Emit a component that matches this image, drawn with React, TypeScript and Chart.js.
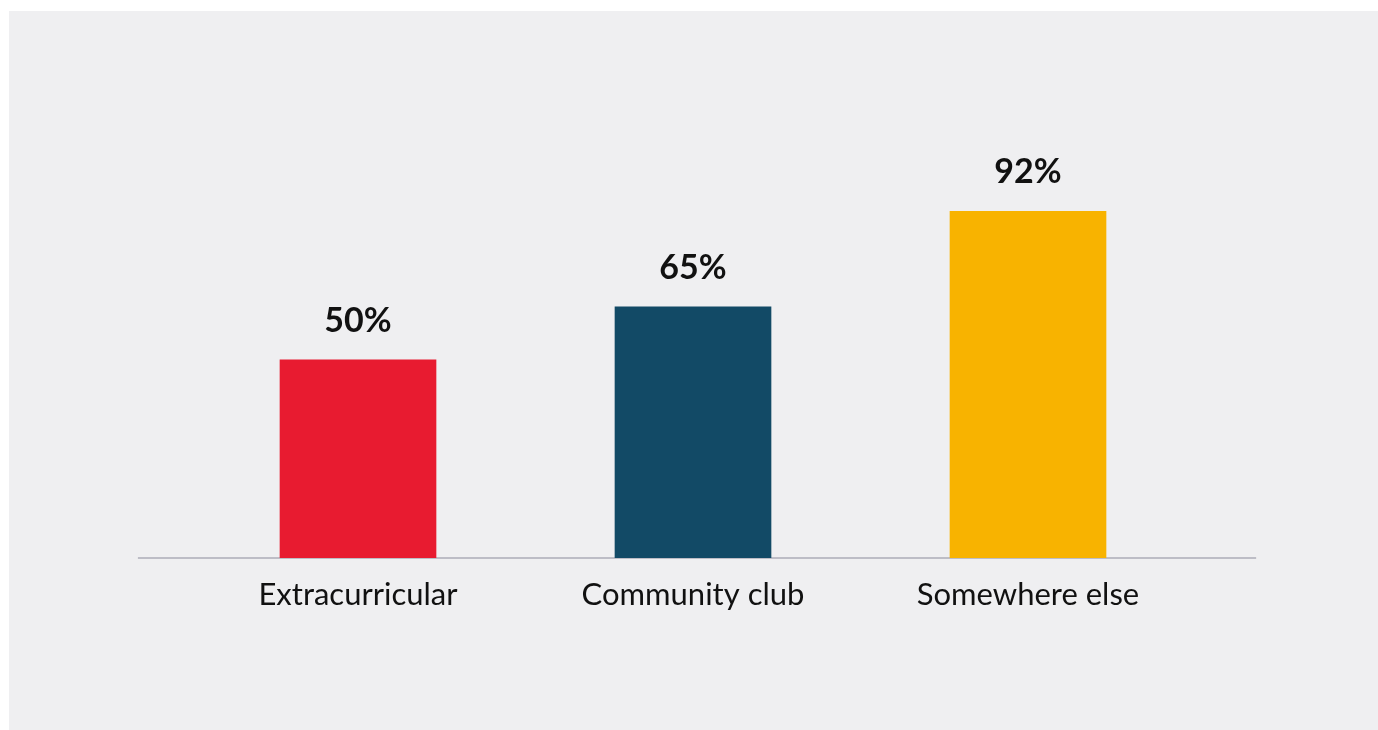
import { useEffect, useRef } from "react";
import { Chart, registerables } from "chart.js";

Chart.register(...registerables);

const categories = ["Extracurricular", "Community club", "Somewhere else"];
const values = [50, 65, 92];
const valueLabels = ["50%", "65%", "92%"];
const barColors = ["#e81b30", "#124a66", "#f8b300"];

const FONT = "Lato, 'Noto Sans', sans-serif";

const valueLabelPlugin = {
  id: "valueLabels",
  afterDatasetsDraw(chart: any) {
    const ctx = chart.ctx;
    const meta = chart.getDatasetMeta(0);
    ctx.save();
    ctx.font = `700 34px ${FONT}`;
    ctx.fillStyle = "#111111";
    ctx.textAlign = "center";
    ctx.textBaseline = "alphabetic";
    meta.data.forEach((bar: any, i: number) => {
      ctx.fillText(valueLabels[i], bar.x, bar.y - 28);
    });
    ctx.restore();
  },
};

const baselinePlugin = {
  id: "baseline",
  beforeDatasetsDraw(chart: any) {
    const ctx = chart.ctx;
    const x = chart.scales.x;
    const y = chart.scales.y;
    const left = x.getPixelForValue(-0.657);
    const right = x.getPixelForValue(2.681);
    const yy = y.getPixelForValue(-6);
    ctx.save();
    ctx.strokeStyle = "#8c8c9c";
    ctx.lineWidth = 1.2;
    ctx.beginPath();
    ctx.moveTo(left, yy);
    ctx.lineTo(right, yy);
    ctx.stroke();
    ctx.restore();
  },
};

export default function App() {
  const ref = useRef<HTMLCanvasElement | null>(null);

  useEffect(() => {
    if (!ref.current) return;
    const chart = new Chart(ref.current, {
      type: "bar",
      data: {
        labels: categories,
        datasets: [
          {
            data: values,
            backgroundColor: barColors,
            borderWidth: 0,
            barThickness: 156,
            base: -6,
          } as any,
        ],
      },
      options: {
        animation: false,
        responsive: true,
        maintainAspectRatio: false,
        layout: { padding: { left: 181.5, right: 182.5, top: 172, bottom: 112 } },
        plugins: {
          legend: { display: false },
          tooltip: { enabled: false },
        },
        scales: {
          x: {
            grid: { display: false, drawTicks: false },
            border: { display: false },
            ticks: {
              color: "#111111",
              padding: 18,
              font: { family: FONT, size: 31, weight: "normal" as any },
            },
            afterFit(scale: any) {
              scale.height = 60;
            },
          },
          y: {
            display: false,
            min: -6,
            max: 100,
          },
        },
      },
      plugins: [baselinePlugin, valueLabelPlugin],
    });
    return () => chart.destroy();
  }, []);

  return (
    <div
      style={{
        position: "absolute",
        left: 9,
        top: 11,
        width: 1369,
        height: 719,
        background: "#efeff1",
      }}
    >
      <canvas ref={ref} />
    </div>
  );
}
